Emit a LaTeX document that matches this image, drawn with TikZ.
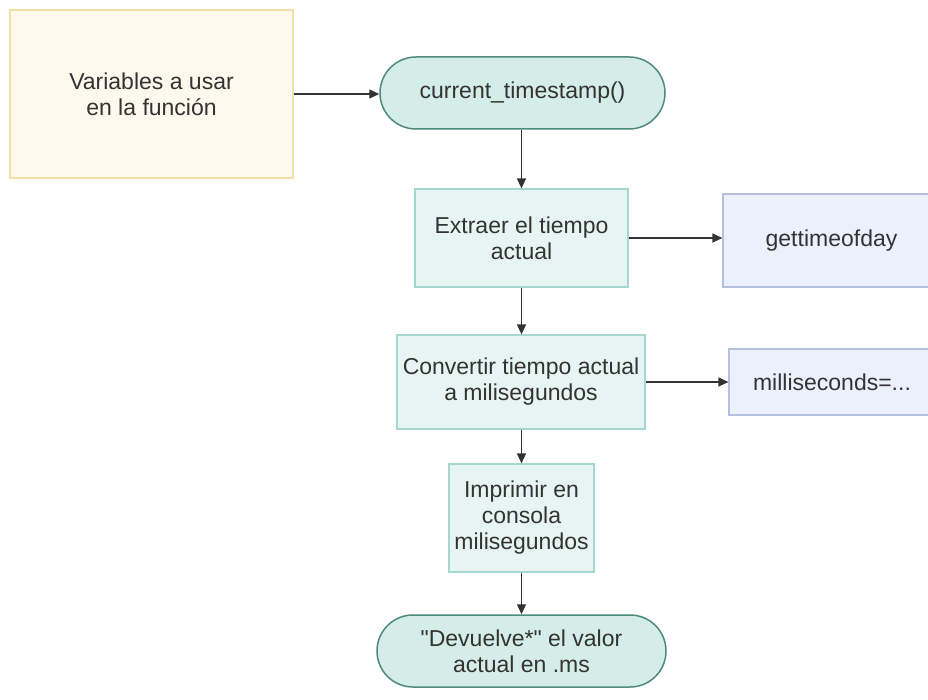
\documentclass[tikz,border=0pt]{standalone}
\usepackage{fontspec}
\setmainfont{Liberation Sans}[Ligatures=TeXOff]
\usetikzlibrary{arrows.meta}
\definecolor{yfill}{HTML}{FFF8EC}
\definecolor{ydraw}{HTML}{F2DFA6}
\definecolor{tfill}{HTML}{D5EDE7}
\definecolor{tdraw}{HTML}{4F8A7C}
\definecolor{pfill}{HTML}{E6F5F2}
\definecolor{pdraw}{HTML}{A6D6CD}
\definecolor{bfill}{HTML}{ECEFFC}
\definecolor{bdraw}{HTML}{B5C0E0}
\definecolor{txt}{HTML}{333333}
\definecolor{arr}{HTML}{333333}
\begin{document}
\begin{tikzpicture}[x=1pt,y=-1pt,
  every node/.style={inner sep=0pt, align=center, text=txt, font=\fontsize{23}{26}\selectfont},
  varbox/.style={draw=ydraw, fill=yfill, line width=1.2pt, minimum width=283pt, minimum height=168pt},
  termbox/.style={draw=tdraw, fill=tfill, line width=1.5pt, rounded corners=36pt},
  procbox/.style={draw=pdraw, fill=pfill, line width=1.2pt},
  extbox/.style={draw=bdraw, fill=bfill, line width=1.2pt},
  conn/.style={draw=arr, line width=1.3pt, -{Triangle[length=10pt,width=9pt]}}]
\useasboundingbox (0,0) rectangle (928,700);
\clip (0,0) rectangle (928,700);
\fill[white] (0,0) rectangle (928,700);
\node[varbox] (var) at (151.5,94) {Variables a usar\\en la función};
\node[termbox, minimum width=285pt, minimum height=72pt] (ts) at (522.5,93) {current\_timestamp()};
\node[procbox, minimum width=213pt, minimum height=98pt] (extr) at (521.5,238) {Extraer el tiempo\\actual};
\node[extbox, minimum width=217pt, minimum height=93pt] (gtod) at (831.5,240.5) {gettimeofday};
\node[procbox, minimum width=248pt, minimum height=94pt] (conv) at (521,382) {Convertir tiempo actual\\a milisegundos};
\node[extbox, minimum width=206pt, minimum height=66pt] (ms) at (832,382) {milliseconds=...};
\node[procbox, minimum width=145pt, minimum height=108pt] (impr) at (521.5,518) {Imprimir en\\consola\\milisegundos};
\node[termbox, minimum width=289pt, minimum height=72pt] (dev) at (521.5,651) {"Devuelve*" el valor\\actual en .ms};
\draw[conn] (var.east) -- (var.east -| ts.west);
\draw[conn] (ts.south -| extr.north) -- (extr.north);
\draw[conn] (extr.east) -- (extr.east -| gtod.west);
\draw[conn] (extr.south) -- (conv.north -| extr.south);
\draw[conn] (conv.east) -- (conv.east -| ms.west);
\draw[conn] (conv.south -| impr.north) -- (impr.north);
\draw[conn] (impr.south) -- (dev.north -| impr.south);
\end{tikzpicture}
\end{document}
